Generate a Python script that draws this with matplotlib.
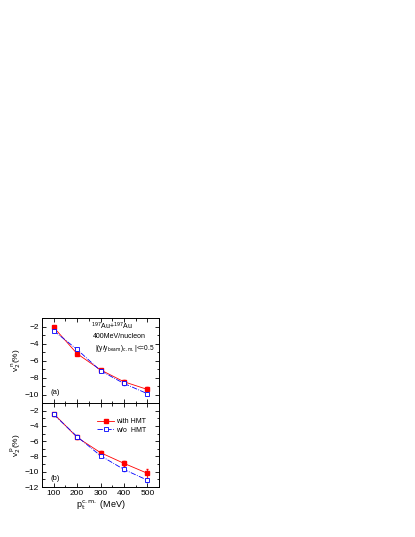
import numpy as np
import matplotlib
matplotlib.use('Agg')
import matplotlib.pyplot as plt
from matplotlib.ticker import MultipleLocator

# data
pt = [100, 200, 300, 400, 500]
# (a) neutrons
n_with = [-2.1, -5.2, -7.1, -8.5, -9.4]
n_with_err = [0.15, 0.15, 0.1, 0.15, 0.25]
n_wo = [-2.5, -4.7, -7.2, -8.7, -9.9]
n_wo_err = [0.15, 0.15, 0.15, 0.15, 0.15]
# (b) protons
p_with = [-2.4, -5.5, -7.5, -8.9, -10.2]
p_with_err = [0.15, 0.15, 0.2, 0.3, 0.6]
p_wo = [-2.5, -5.4, -7.9, -9.7, -11.1]
p_wo_err = [0.15, 0.15, 0.15, 0.15, 0.2]

plt.rcParams['font.family'] = ['Liberation Sans', 'DejaVu Sans']

fig = plt.figure(figsize=(4.15, 5.37), dpi=100)
W, H = 415, 537
left, right = 42, 159
top, mid, bot = 318, 403, 487
ax1 = fig.add_axes([left / W, 1 - mid / H, (right - left) / W, (mid - top) / H])
ax2 = fig.add_axes([left / W, 1 - bot / H, (right - left) / W, (bot - mid) / H])

def draw(ax, y1, e1, y2, e2):
    ax.errorbar(pt, y1, yerr=e1, fmt='none', ecolor='red', elinewidth=0.6, capsize=1)
    ax.errorbar(pt, y2, yerr=e2, fmt='none', ecolor='blue', elinewidth=0.6, capsize=1)
    ax.plot(pt, y1, color='red', marker='s', ms=3.2, lw=0.6,
            mfc='red', mec='red', label='with HMT')
    ax.plot(pt, y2, color='blue', marker='s', ms=3.2, lw=0.6, ls='-.',
            mfc='white', mec='blue', mew=0.6, label='w/o  HMT')
    ax.set_xlim(50, 550)
    ax.xaxis.set_major_locator(MultipleLocator(100))
    ax.xaxis.set_minor_locator(MultipleLocator(50))
    ax.yaxis.set_major_locator(MultipleLocator(2))
    ax.yaxis.set_minor_locator(MultipleLocator(1))
    ax.tick_params(which='both', direction='in', top=True, right=True, labelsize=6,
                   width=0.6, pad=2)
    ax.tick_params(which='major', length=3)
    ax.tick_params(which='minor', length=1.8)
    for s in ax.spines.values():
        s.set_linewidth(0.7)

draw(ax1, n_with, n_with_err, n_wo, n_wo_err)
ax1.set_ylim(-11, -1)
ax1.tick_params(labelbottom=False)
ax1.set_ylabel(r'v$_2^{\,\mathrm{n}}$(%)', fontsize=6, labelpad=1)
ax1.text(0.6, 0.86, r'$^{197}$Au+$^{197}$Au', transform=ax1.transAxes,
         fontsize=5, ha='center')
ax1.text(0.66, 0.77, '400MeV/nucleon', transform=ax1.transAxes,
         fontsize=5, ha='center')
ax1.text(0.71, 0.62, r'|(y/y$_{\rm beam}$)$_{\rm c.m.}$|<=0.5', transform=ax1.transAxes,
         fontsize=4.7, ha='center')
ax1.text(0.07, 0.1, '(a)', transform=ax1.transAxes, fontsize=5.5)

draw(ax2, p_with, p_with_err, p_wo, p_wo_err)
ax2.set_ylim(-12, -1)
ax2.set_ylabel(r'v$_2^{\,\mathrm{p}}$(%)', fontsize=6, labelpad=1)
ax2.set_xlabel(r'p$_{\rm t}^{\rm c.m.}$ (MeV)', fontsize=6.5, labelpad=1)
ax2.text(0.07, 0.08, '(b)', transform=ax2.transAxes, fontsize=5.5)
ax2.legend(loc='upper right', bbox_to_anchor=(0.93, 0.87), fontsize=5, frameon=False,
           handlelength=2.5, handletextpad=0.3, labelspacing=0.25, borderpad=0.1,
           markerscale=0.8)

fig.savefig('out.png', dpi=100)
